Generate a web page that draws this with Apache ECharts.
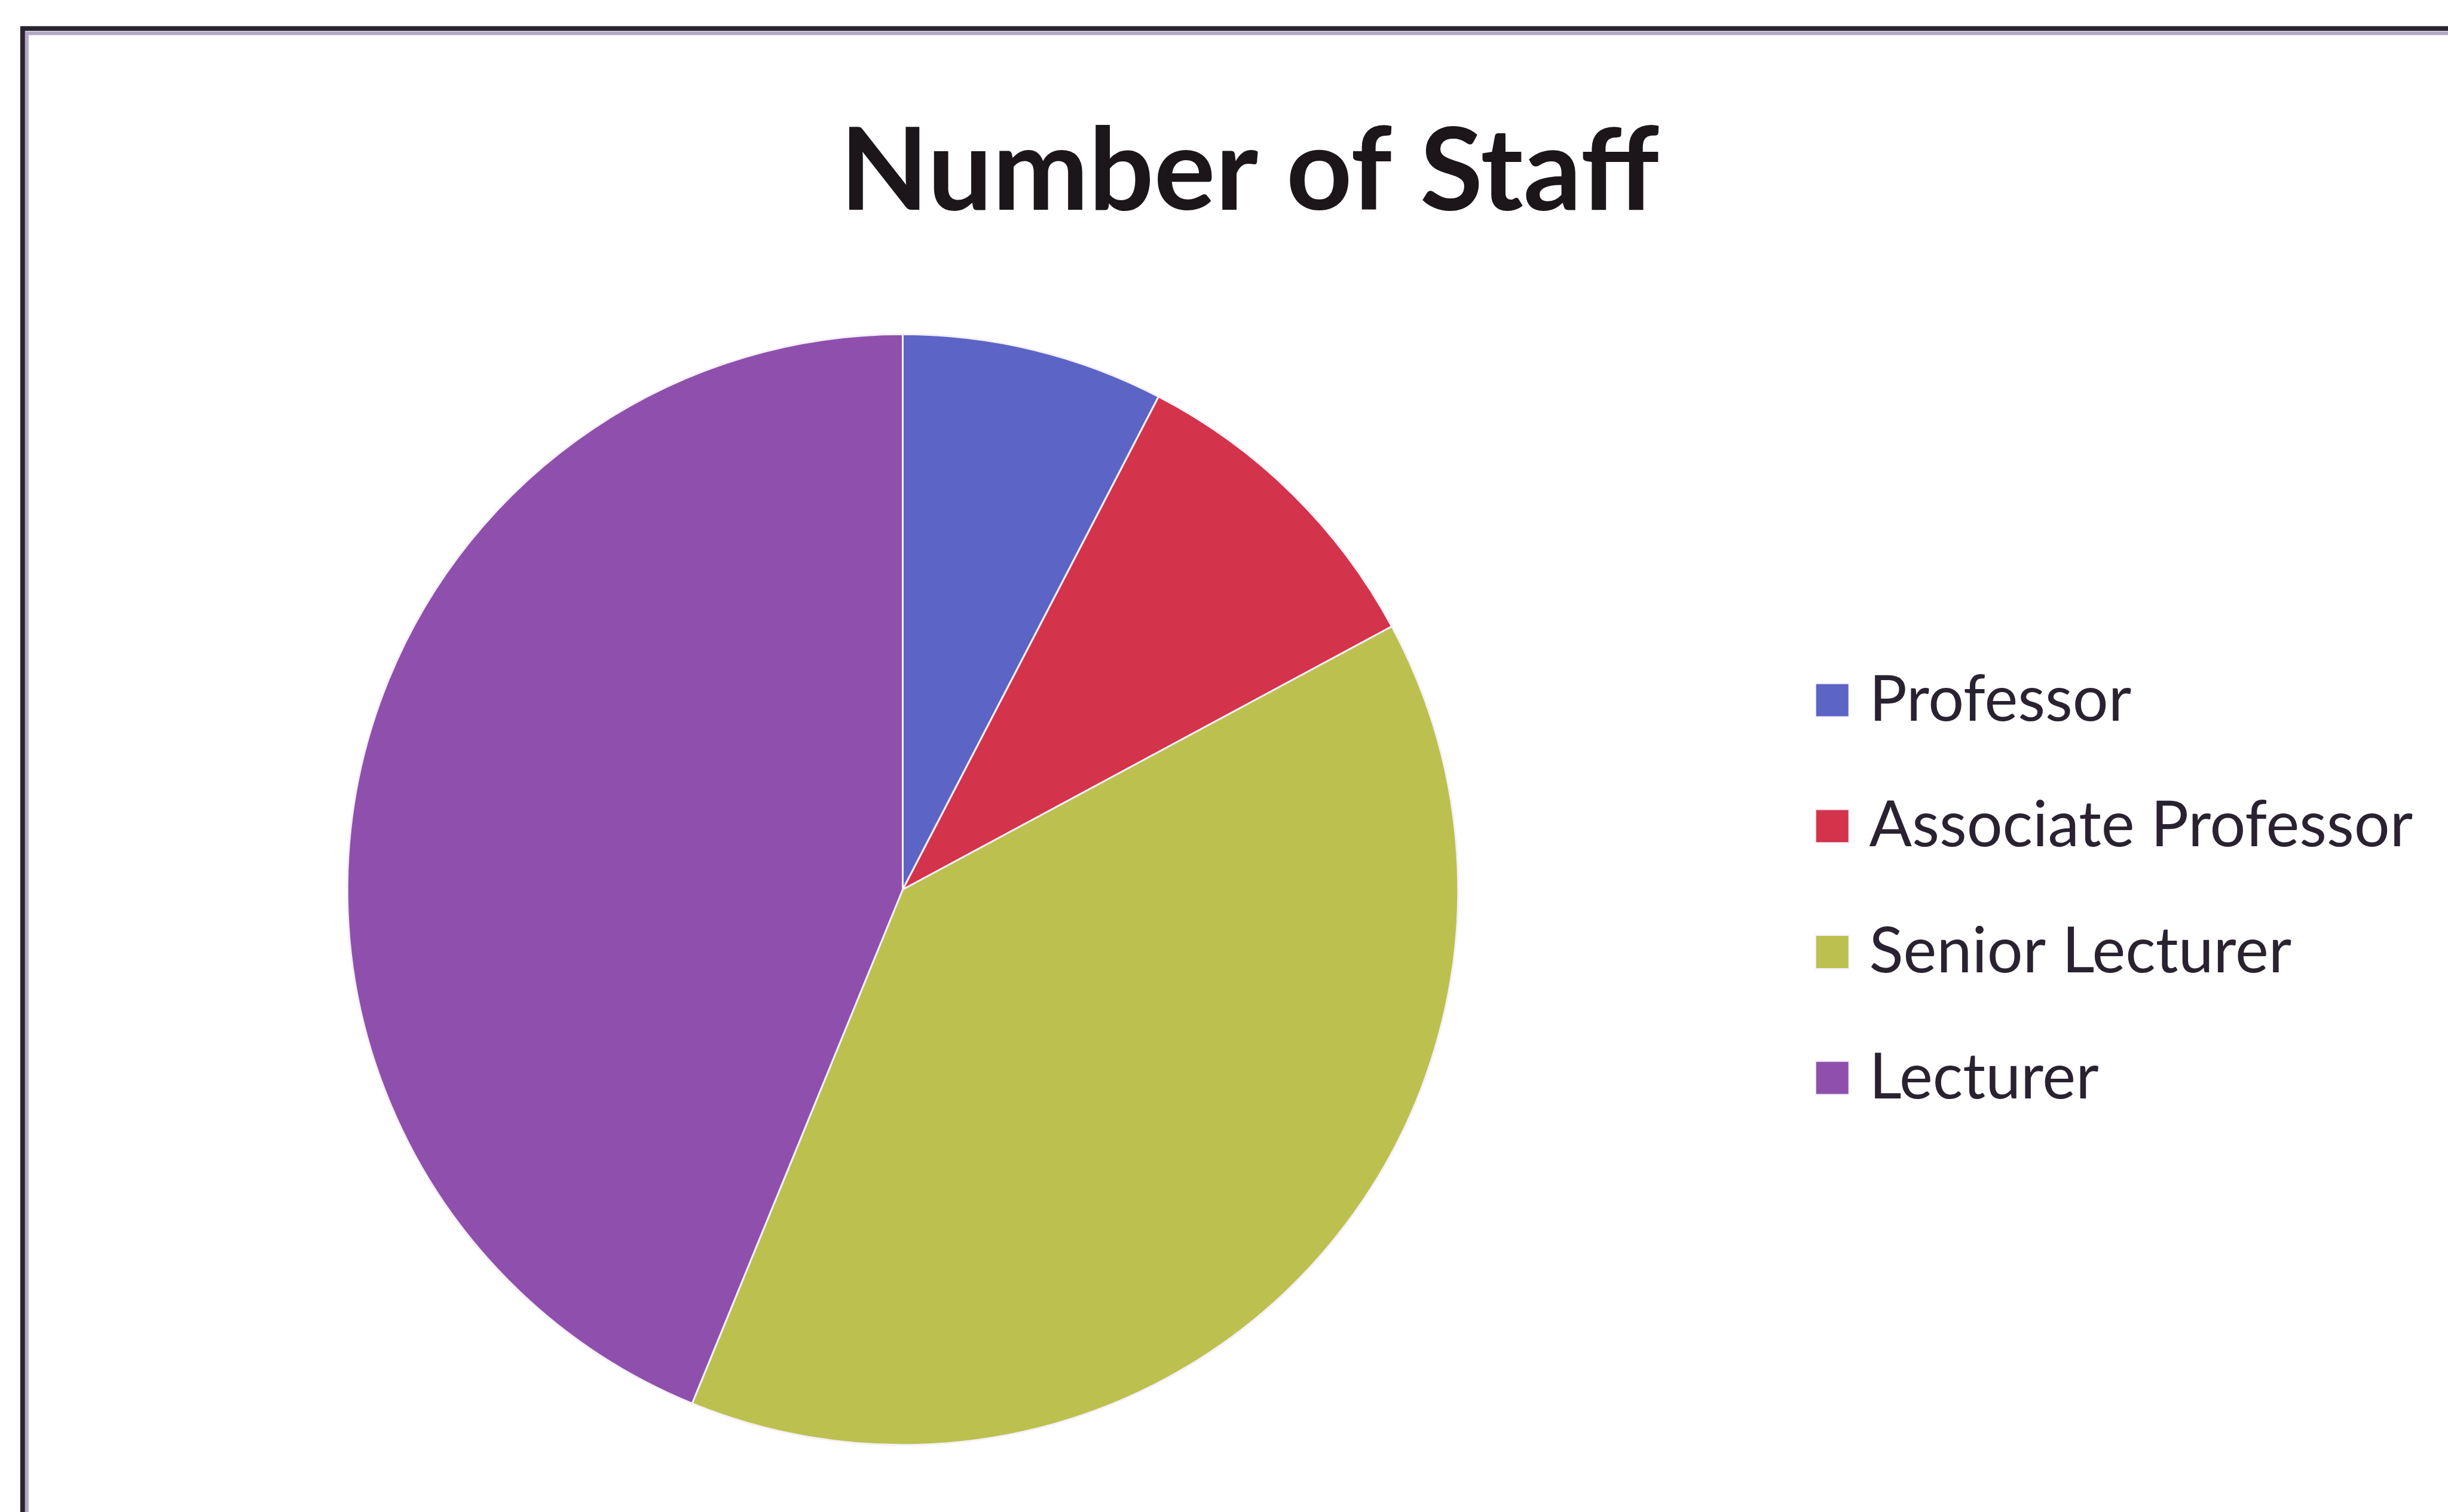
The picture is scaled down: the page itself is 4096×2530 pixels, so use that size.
<!DOCTYPE html>
<html>
<head>
<meta charset="utf-8">
<script src="https://cdn.jsdelivr.net/npm/echarts@6/dist/echarts.min.js"></script>
<style>
  html, body { margin: 0; padding: 0; background: #fff; }
  #chart { width: 4096px; height: 2530px; }
</style>
</head>
<body>
<div id="chart"></div>
<script>
// data
var categories = ['Professor', 'Associate Professor', 'Senior Lecturer', 'Lecturer'];
var staffCounts = [8, 10, 41, 46];
var sliceColors = ['#5c64c6', '#d3344b', '#bcc04f', '#8f50ad'];

var S = 0.997; // reference -> window scale

var chart = echarts.init(document.getElementById('chart'));

var pieData = categories.map(function (name, i) {
    return { name: name, value: staffCounts[i], itemStyle: { color: sliceColors[i] } };
});

var option = {
    backgroundColor: '#fff',
    animation: false,
    title: {
        text: 'Number of Staff',
        left: 2097 * S,
        top: 194 * S,
        textAlign: 'center',
        padding: 0,
        textStyle: {
            fontFamily: 'Lato',
            fontWeight: 'bold',
            fontSize: 193 * S,
            color: '#1c161b'
        }
    },
    legend: {
        orient: 'vertical',
        left: 3046 * S,
        top: 1122 * S,
        padding: 0,
        icon: 'rect',
        itemWidth: 56 * S,
        itemHeight: 56 * S,
        itemGap: 105 * S,
        data: categories,
        textStyle: {
            fontFamily: 'Lato',
            fontSize: 106 * S,
            color: '#2a2230',
            padding: [0, 0, 0, 29 * S]
        }
    },
    graphic: [
        {
            // chart frame (runs off the right and bottom edges)
            type: 'rect',
            shape: { x: 38 * S, y: 48 * S, width: 4300, height: 2800 },
            style: { fill: 'none', stroke: '#2a2430', lineWidth: 8 },
            silent: true
        },
        {
            type: 'rect',
            shape: { x: 45 * S, y: 56 * S, width: 4300, height: 2800 },
            style: { fill: 'none', stroke: '#b2a8c4', lineWidth: 6 },
            silent: true
        }
    ],
    series: [
        {
            name: 'Number of Staff',
            type: 'pie',
            center: [1515 * S, 1493 * S],
            radius: 932 * S,
            startAngle: 90,
            clockwise: true,
            label: { show: false },
            labelLine: { show: false },
            itemStyle: { borderColor: '#f4f0f8', borderWidth: 3 },
            emphasis: { disabled: true },
            data: pieData
        }
    ]
};

chart.setOption(option);
</script>
</body>
</html>
